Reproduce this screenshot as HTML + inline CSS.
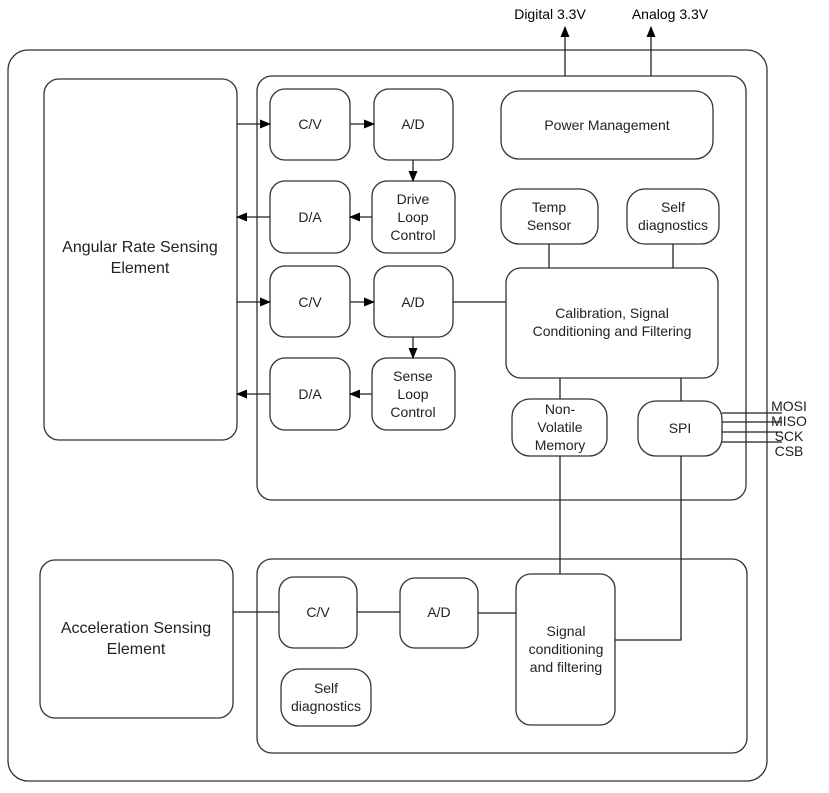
<!DOCTYPE html>
<html><head><style>body{margin:0;background:#fff}svg{display:block}text{font-family:"Liberation Sans",sans-serif;font-size:14px;fill:#222;text-anchor:middle}</style></head><body>
<svg width="829" height="793" viewBox="0 0 829 793">
<defs><marker id="a" markerWidth="11" markerHeight="9" refX="10" refY="4.5" orient="auto" markerUnits="userSpaceOnUse"><path d="M0,0L11,4.5L0,9z" fill="#000"/></marker></defs>
<g fill="#fff" stroke="#333" stroke-width="1.3">
<rect x="8" y="50" width="759" height="731" rx="20"/>
<rect x="257" y="76" width="489" height="424" rx="15"/>
<rect x="44" y="79" width="193" height="361" rx="15"/>
<rect x="40" y="560" width="193" height="158" rx="15"/>
<rect x="257" y="559" width="490" height="194" rx="15"/>
<rect x="270" y="89" width="80" height="71" rx="15"/>
<rect x="374" y="89" width="79" height="71" rx="15"/>
<rect x="270" y="181" width="80" height="72" rx="15"/>
<rect x="372" y="181" width="83" height="72" rx="15"/>
<rect x="270" y="266" width="80" height="71" rx="15"/>
<rect x="374" y="266" width="79" height="71" rx="15"/>
<rect x="270" y="358" width="80" height="72" rx="15"/>
<rect x="372" y="358" width="83" height="72" rx="15"/>
<rect x="501" y="91" width="212" height="68" rx="18"/>
<rect x="501" y="189" width="97" height="55" rx="18"/>
<rect x="627" y="189" width="92" height="55" rx="18"/>
<rect x="506" y="268" width="212" height="110" rx="15"/>
<rect x="512" y="399" width="95" height="57" rx="18"/>
<rect x="638" y="401" width="84" height="55" rx="18"/>
<rect x="279" y="577" width="78" height="71" rx="15"/>
<rect x="400" y="578" width="78" height="70" rx="15"/>
<rect x="516" y="574" width="99" height="151" rx="15"/>
<rect x="281" y="669" width="90" height="57" rx="18"/>
</g>
<g stroke="#222" stroke-width="1.3" fill="none">
<line x1="565" y1="76" x2="565" y2="27" marker-end="url(#a)"/>
<line x1="651" y1="76" x2="651" y2="27" marker-end="url(#a)"/>
<line x1="237" y1="124" x2="270" y2="124" marker-end="url(#a)"/>
<line x1="350" y1="124" x2="374" y2="124" marker-end="url(#a)"/>
<line x1="413" y1="160" x2="413" y2="181" marker-end="url(#a)"/>
<line x1="372" y1="217" x2="350" y2="217" marker-end="url(#a)"/>
<line x1="270" y1="217" x2="237" y2="217" marker-end="url(#a)"/>
<line x1="237" y1="302" x2="270" y2="302" marker-end="url(#a)"/>
<line x1="350" y1="302" x2="374" y2="302" marker-end="url(#a)"/>
<line x1="413" y1="337" x2="413" y2="358" marker-end="url(#a)"/>
<line x1="372" y1="394" x2="350" y2="394" marker-end="url(#a)"/>
<line x1="270" y1="394" x2="237" y2="394" marker-end="url(#a)"/>
<line x1="453" y1="302" x2="506" y2="302"/>
<line x1="549" y1="244" x2="549" y2="268"/>
<line x1="673" y1="244" x2="673" y2="268"/>
<line x1="560" y1="378" x2="560" y2="399"/>
<line x1="560" y1="456" x2="560" y2="574"/>
<line x1="681" y1="378" x2="681" y2="401"/>
<polyline points="681,456 681,640 615,640"/>
<line x1="233" y1="612" x2="279" y2="612"/>
<line x1="357" y1="612" x2="400" y2="612"/>
<line x1="478" y1="613" x2="516" y2="613"/>
<line x1="722" y1="413" x2="782" y2="413"/>
<line x1="722" y1="422" x2="782" y2="422"/>
<line x1="722" y1="432" x2="782" y2="432"/>
<line x1="722" y1="442" x2="782" y2="442"/>
</g>
<g>
<text x="550" y="19" style="font-size:14px;fill:#000">Digital 3.3V</text>
<text x="670" y="19" style="font-size:14px;fill:#000">Analog 3.3V</text>
<text x="140" y="252" style="font-size:16px">Angular Rate Sensing</text>
<text x="140" y="273" style="font-size:16px">Element</text>
<text x="136" y="633" style="font-size:16px">Acceleration Sensing</text>
<text x="136" y="654" style="font-size:16px">Element</text>
<text x="310" y="129">C/V</text><text x="413" y="129">A/D</text>
<text x="310" y="222">D/A</text>
<text x="413" y="204">Drive</text><text x="413" y="222">Loop</text><text x="413" y="240">Control</text>
<text x="310" y="307">C/V</text><text x="413" y="307">A/D</text>
<text x="310" y="399">D/A</text>
<text x="413" y="381">Sense</text><text x="413" y="399">Loop</text><text x="413" y="417">Control</text>
<text x="607" y="130">Power Management</text>
<text x="549" y="212">Temp</text><text x="549" y="230">Sensor</text>
<text x="673" y="212">Self</text><text x="673" y="230">diagnostics</text>
<text x="612" y="318">Calibration, Signal</text><text x="612" y="336">Conditioning and Filtering</text>
<text x="560" y="414">Non-</text><text x="560" y="432">Volatile</text><text x="560" y="450">Memory</text>
<text x="680" y="433">SPI</text>
<text x="318" y="617">C/V</text><text x="439" y="617">A/D</text>
<text x="566" y="636">Signal</text><text x="566" y="654">conditioning</text><text x="566" y="672">and filtering</text>
<text x="326" y="693">Self</text><text x="326" y="711">diagnostics</text>
<g style="font-size:10px;fill:#000;text-anchor:start">
<text x="789" y="411">MOSI</text><text x="789" y="426">MISO</text><text x="789" y="441">SCK</text><text x="789" y="456">CSB</text>
</g>
</g>
</svg>
</body></html>
